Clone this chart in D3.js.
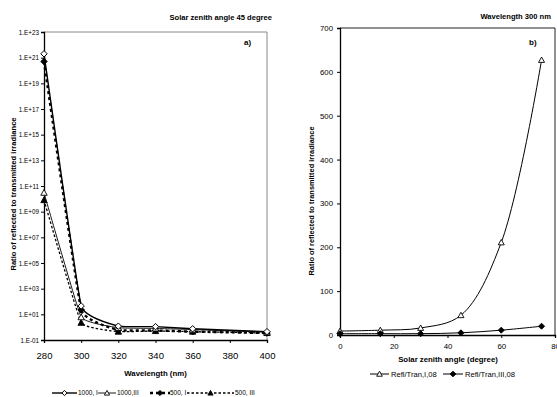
<!DOCTYPE html>
<html>
<head>
<meta charset="utf-8">
<script src="https://cdn.jsdelivr.net/npm/d3@7"></script>
<style>
  body { margin: 0; background: #fff; }
  svg { font-family: "Liberation Sans", Arial, sans-serif; }
  svg text { fill: #000; }
  .bold { font-weight: bold; }
</style>
</head>
<body>
<svg id="chart" width="557" height="397"></svg>
<script>
// panel a) – ratio vs wavelength at solar zenith angle 45
const wavelengths = [280, 300, 320, 340, 360, 400];
const ratio1000I = [2e21, 45, 1.2, 1.1, 0.75, 0.45];
const ratio1000III = [3e10, 6, 0.9, 0.8, 0.65, 0.4];
const ratio500I = [5e20, 22, 0.6, 0.55, 0.45, 0.35];
const ratio500III = [8e9, 2.2, 0.45, 0.5, 0.45, 0.35];
const seriesNamesA = ["1000, I", "1000,III", "500, I", "500, III"];
const logTicks = [1e-1, 1e1, 1e3, 1e5, 1e7, 1e9, 1e11, 1e13, 1e15, 1e17, 1e19, 1e21, 1e23];
const wlTicks = [280, 300, 320, 340, 360, 380, 400];

// panel b) – ratio vs solar zenith angle at 300 nm
const zenithAngles = [0, 15, 30, 45, 60, 75];
const reflTranI = [9, 11, 16, 45, 211, 627];
const reflTranIII = [3, 3, 3, 5, 11, 20];
const seriesNamesB = ["Refl/Tran,I,08", "Refl/Tran,III,08"];
const angleTicks = [0, 20, 40, 60, 80];
const ratioTicks = [0, 100, 200, 300, 400, 500, 600, 700];

const svg = d3.select("#chart");

function marker(g, type, x, y, s) {
  if (type === "diamondOpen" || type === "diamond") {
    g.append("path")
      .attr("d", `M${x},${y - s}L${x + s},${y}L${x},${y + s}L${x - s},${y}Z`)
      .attr("fill", type === "diamond" ? "#000" : "#fff")
      .attr("stroke", "#000").attr("stroke-width", 1);
  } else {
    g.append("path")
      .attr("d", `M${x},${y - s}L${x + s},${y + s * 0.8}L${x - s},${y + s * 0.8}Z`)
      .attr("fill", type === "triangle" ? "#000" : "#fff")
      .attr("stroke", "#000").attr("stroke-width", 0.9);
  }
}

// ---------- panel a ----------
const ax = { left: 44, right: 267, top: 32, bottom: 340 };
const xA = d3.scaleLinear().domain([280, 400]).range([ax.left, ax.right]);
const yA = d3.scaleLog().domain([1e-1, 1e23]).range([ax.bottom, ax.top]);

const gA = svg.append("g");
// grey frame top / right
gA.append("path")
  .attr("d", `M${ax.left},${ax.top}H${ax.right}V${ax.bottom}`)
  .attr("fill", "none").attr("stroke", "#888").attr("stroke-width", 1);

const fmtE = v => {
  const e = Math.round(Math.log10(v));
  return "1.E" + (e < 0 ? "-" : "+") + String(Math.abs(e)).padStart(2, "0");
};

const yAxisA = gA.append("g")
  .attr("transform", `translate(${ax.left},0)`)
  .call(d3.axisLeft(yA).tickValues(logTicks).tickFormat(fmtE).tickSize(3).tickPadding(2));
yAxisA.selectAll("text").attr("font-size", 6.3).attr("font-family", "Liberation Sans, Arial");

const xAxisA = gA.append("g")
  .attr("transform", `translate(0,${ax.bottom})`)
  .call(d3.axisBottom(xA).tickValues(wlTicks).tickFormat(d3.format("d")).tickSize(3).tickPadding(9));
xAxisA.selectAll("text").attr("font-size", 9.5).attr("font-family", "Liberation Sans, Arial");

[yAxisA, xAxisA].forEach(a => {
  a.select(".domain").attr("stroke", "#000").attr("stroke-width", 1.3);
  a.selectAll(".tick line").attr("stroke", "#000");
});

const seriesA = [
  { name: seriesNamesA[0], values: ratio1000I, mark: "diamondOpen", width: 1.4, dash: null },
  { name: seriesNamesA[1], values: ratio1000III, mark: "triangleOpen", width: 0.9, dash: null },
  { name: seriesNamesA[2], values: ratio500I, mark: "diamond", width: 2.4, dash: "3,3" },
  { name: seriesNamesA[3], values: ratio500III, mark: "triangle", width: 1.3, dash: "2.5,2" }
];

const lineA = d3.line()
  .x(d => xA(d[0]))
  .y(d => yA(d[1]))
  .curve(d3.curveCardinal.tension(0.75));

seriesA.slice().reverse().forEach(s => {
  const pts = wavelengths.map((w, i) => [w, s.values[i]]);
  gA.append("path")
    .attr("d", lineA(pts))
    .attr("fill", "none").attr("stroke", "#000")
    .attr("stroke-width", s.width)
    .attr("stroke-dasharray", s.dash);
  pts.forEach(p => marker(gA, s.mark, xA(p[0]), yA(p[1]), 3.2));
});

gA.append("text").attr("class", "bold")
  .attr("x", 272).attr("y", 20).attr("text-anchor", "end")
  .attr("font-size", 7.6).text("Solar zenith angle 45 degree");
gA.append("text").attr("class", "bold")
  .attr("x", 244).attr("y", 45).attr("font-size", 8).text("a)");
gA.append("text").attr("class", "bold")
  .attr("x", (ax.left + ax.right) / 2).attr("y", 376).attr("text-anchor", "middle")
  .attr("font-size", 7.8).text("Wavelength (nm)");
gA.append("text").attr("class", "bold")
  .attr("transform", "translate(16,194) rotate(-90)").attr("text-anchor", "middle")
  .attr("font-size", 7.6).text("Ratio of reflected to transmitted irradiance");

// legend a
const legA = [
  { x0: 52, x1: 77, tx: 78 },
  { x0: 98, x1: 116, tx: 117 },
  { x0: 150, x1: 170, tx: 170 },
  { x0: 187, x1: 234, tx: 235 }
];
legA.forEach((l, i) => {
  const s = seriesA[i];
  const ly = 393;
  gA.append("line")
    .attr("x1", l.x0).attr("x2", l.x1).attr("y1", ly).attr("y2", ly)
    .attr("stroke", "#000").attr("stroke-width", s.width)
    .attr("stroke-dasharray", s.dash);
  marker(gA, s.mark, (l.x0 + l.x1) / 2, ly, 2.6);
  gA.append("text").attr("x", l.tx).attr("y", ly + 2.3)
    .attr("font-size", 6.5).text(s.name);
});

// ---------- panel b ----------
const bx = { left: 340, right: 555, top: 28, bottom: 335 };
const xB = d3.scaleLinear().domain([0, 80]).range([bx.left, bx.right]);
const yB = d3.scaleLinear().domain([0, 700]).range([bx.bottom, bx.top]);

const gB = svg.append("g");
gB.append("path")
  .attr("d", `M${bx.left},${bx.top}H${bx.right}V${bx.bottom}`)
  .attr("fill", "none").attr("stroke", "#222").attr("stroke-width", 1);

const yAxisB = gB.append("g")
  .attr("transform", `translate(${bx.left},0)`)
  .call(d3.axisLeft(yB).tickValues(ratioTicks).tickSize(3).tickPadding(4));
yAxisB.selectAll("text").attr("font-size", 7.8).attr("font-family", "Liberation Sans, Arial");

const xAxisB = gB.append("g")
  .attr("transform", `translate(0,${bx.bottom})`)
  .call(d3.axisBottom(xB).tickValues(angleTicks).tickSize(3).tickPadding(5));
xAxisB.selectAll("text").attr("font-size", 7.8).attr("font-family", "Liberation Sans, Arial");

[yAxisB, xAxisB].forEach(a => {
  a.select(".domain").attr("stroke", "#000").attr("stroke-width", 1.3);
  a.selectAll(".tick line").attr("stroke", "#000");
});

const seriesB = [
  { name: seriesNamesB[0], values: reflTranI, mark: "triangleOpen" },
  { name: seriesNamesB[1], values: reflTranIII, mark: "diamond" }
];

const lineB = d3.line()
  .x(d => xB(d[0]))
  .y(d => yB(d[1]))
  .curve(d3.curveCatmullRom.alpha(0.5));

seriesB.forEach(s => {
  const pts = zenithAngles.map((a, i) => [a, s.values[i]]);
  gB.append("path")
    .attr("d", lineB(pts))
    .attr("fill", "none").attr("stroke", "#000").attr("stroke-width", 1);
  pts.forEach(p => marker(gB, s.mark, xB(p[0]), yB(p[1]), 3));
});

gB.append("text").attr("class", "bold")
  .attr("x", 551).attr("y", 19).attr("text-anchor", "end")
  .attr("font-size", 7.6).text("Wavelength 300 nm");
gB.append("text").attr("class", "bold")
  .attr("x", 529).attr("y", 45).attr("font-size", 8).text("b)");
gB.append("text").attr("class", "bold")
  .attr("x", 448).attr("y", 362).attr("text-anchor", "middle")
  .attr("font-size", 7.8).text("Solar zenith angle (degree)");
gB.append("text").attr("class", "bold")
  .attr("transform", "translate(314,201) rotate(-90)").attr("text-anchor", "middle")
  .attr("font-size", 7.4).text("Ratio of reflected to transmitted irradiance");

// legend b
const legB = [
  { x0: 370, x1: 389, tx: 391 },
  { x0: 443, x1: 463, tx: 465 }
];
legB.forEach((l, i) => {
  const s = seriesB[i];
  const ly = 374;
  gB.append("line")
    .attr("x1", l.x0).attr("x2", l.x1).attr("y1", ly).attr("y2", ly)
    .attr("stroke", "#000").attr("stroke-width", 1);
  marker(gB, s.mark, (l.x0 + l.x1) / 2, ly, 2.8);
  gB.append("text").attr("x", l.tx).attr("y", ly + 2.7)
    .attr("font-size", 7.6).text(s.name);
});
</script>
</body>
</html>
